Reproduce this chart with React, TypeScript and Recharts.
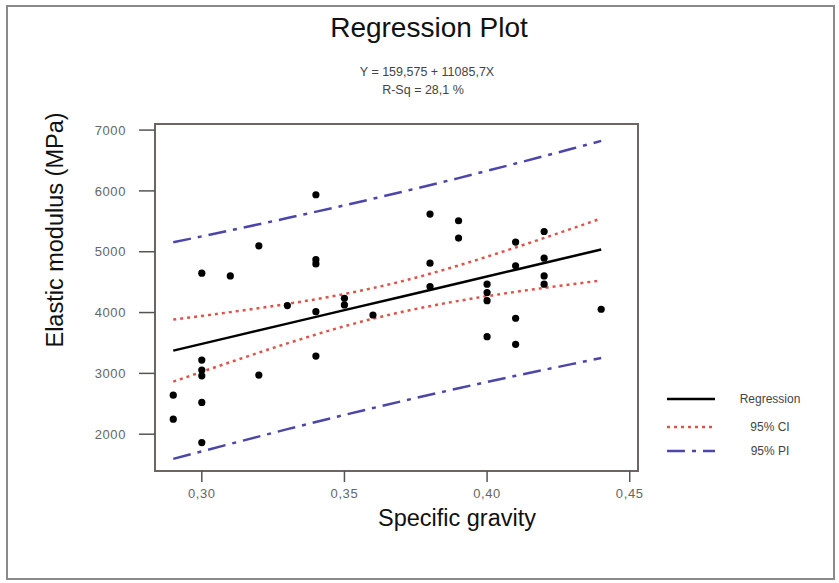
import React from 'react';
import { ComposedChart, Line, Scatter, XAxis, YAxis, ReferenceArea } from 'recharts';

// observed points (specific gravity vs elastic modulus)
const gravity = [
  0.29, 0.29,
  0.3, 0.3, 0.3, 0.3, 0.3, 0.3,
  0.31,
  0.32, 0.32,
  0.33,
  0.34, 0.34, 0.34, 0.34, 0.34,
  0.35, 0.35,
  0.36,
  0.38, 0.38, 0.38,
  0.39, 0.39,
  0.4, 0.4, 0.4, 0.4,
  0.41, 0.41, 0.41, 0.41,
  0.42, 0.42, 0.42, 0.42,
  0.44,
];
const modulus = [
  2642, 2247,
  4647, 3219, 3054, 2960, 2522, 1863,
  4603,
  5097, 2972,
  4114,
  5937, 4870, 4800, 4015, 3285,
  4235, 4125,
  3960,
  5619, 4812, 4427,
  5509, 5224,
  4466, 4328, 4196, 3603,
  5158, 4768, 3906, 3478,
  5333, 4894, 4603, 4466,
  4054,
];

// fitted line and bands
const bandX = [0.29, 0.31, 0.33, 0.35, 0.37, 0.39, 0.41, 0.43, 0.44];
const regression = [3374, 3596, 3818, 4040, 4261, 4483, 4705, 4926, 5037];
const ciUpper = [3884, 4007, 4143, 4305, 4513, 4774, 5070, 5385, 5547];
const ciLower = [2864, 3185, 3493, 3775, 4009, 4192, 4340, 4467, 4527];
const piUpper = [5155, 5351, 5553, 5762, 5981, 6210, 6450, 6696, 6822];
const piLower = [1595, 1841, 2083, 2318, 2541, 2756, 2960, 3156, 3252];

const xTicks = [0.3, 0.35, 0.4, 0.45];
const yTicks = [2000, 3000, 4000, 5000, 6000, 7000];

const X_DOMAIN: [number, number] = [0.2836, 0.4529];
const Y_DOMAIN: [number, number] = [1395, 7100];

const FONT = '"Liberation Sans", Arial, sans-serif';
const CI_COLOR = '#d9564a';
const PI_COLOR = '#4b46a8';

const points = gravity.map((x, i) => ({ x, y: modulus[i] }));
const bands = bandX.map((x, i) => ({
  x,
  reg: regression[i],
  ciU: ciUpper[i],
  ciL: ciLower[i],
  piU: piUpper[i],
  piL: piLower[i],
}));

const Dot = (props: any) => <circle cx={props.cx} cy={props.cy} r={3.6} fill="#000" />;

const legendRows = [
  { label: 'Regression', top: 399, color: '#000', dash: undefined },
  { label: '95% CI', top: 427, color: CI_COLOR, dash: '3 4' },
  { label: '95% PI', top: 451, color: PI_COLOR, dash: '18 7 4 7' },
];

const centered = (left: number, top: number, size: number, color: string, extra: React.CSSProperties = {}) => ({
  position: 'absolute' as const,
  left,
  top,
  transform: 'translate(-50%, -50%)',
  fontFamily: FONT,
  fontSize: size,
  color,
  whiteSpace: 'nowrap' as const,
  lineHeight: 1,
  ...extra,
});

export default function App() {
  const fmt = (v: number) => v.toFixed(2).replace('.', ',');
  return (
    <div style={{ position: 'absolute', left: 0, top: 0, width: 839, height: 583, background: '#fff' }}>
      <div
        style={{
          position: 'absolute',
          left: 6,
          top: 5,
          width: 825,
          height: 571,
          border: '2px solid #8a8a8a',
        }}
      />
      <div style={{ position: 'absolute', left: 0, top: 0 }}>
        <ComposedChart
          width={839}
          height={583}
          data={bands}
          margin={{ top: 124, right: 201, left: 95, bottom: 72 }}
        >
          <XAxis
            dataKey="x"
            type="number"
            domain={X_DOMAIN}
            ticks={xTicks}
            tickFormatter={fmt}
            allowDataOverflow
            height={40}
            axisLine={false}
            tickLine={{ stroke: '#555', strokeWidth: 1.5 }}
            tickSize={11}
            tickMargin={7}
            tick={{ fill: '#666', fontSize: 13, fontFamily: FONT, letterSpacing: 0.6 }}
          />
          <YAxis
            type="number"
            domain={Y_DOMAIN}
            ticks={yTicks}
            allowDataOverflow
            width={60}
            axisLine={false}
            tickLine={{ stroke: '#555', strokeWidth: 1.5 }}
            tickSize={16}
            tickMargin={13}
            tick={{ fill: '#666', fontSize: 13, fontFamily: FONT, letterSpacing: 0.6 }}
          />
          <ReferenceArea
            x1={X_DOMAIN[0]}
            x2={X_DOMAIN[1]}
            y1={Y_DOMAIN[0]}
            y2={Y_DOMAIN[1]}
            fill="none"
            stroke="#6e6461"
            strokeWidth={2}
            ifOverflow="visible"
          />
          <Line dataKey="piU" type="linear" stroke={PI_COLOR} strokeWidth={2.5} strokeDasharray="18 7 4 7" dot={false} isAnimationActive={false} />
          <Line dataKey="piL" type="linear" stroke={PI_COLOR} strokeWidth={2.5} strokeDasharray="18 7 4 7" dot={false} isAnimationActive={false} />
          <Line dataKey="ciU" type="monotone" stroke={CI_COLOR} strokeWidth={2.5} strokeDasharray="3 4" dot={false} isAnimationActive={false} />
          <Line dataKey="ciL" type="monotone" stroke={CI_COLOR} strokeWidth={2.5} strokeDasharray="3 4" dot={false} isAnimationActive={false} />
          <Line dataKey="reg" type="linear" stroke="#000" strokeWidth={2.5} dot={false} isAnimationActive={false} />
          <Scatter data={points} dataKey="y" shape={Dot} isAnimationActive={false} />
        </ComposedChart>
      </div>
      {legendRows.map((r) => (
        <React.Fragment key={r.label}>
          <svg style={{ position: 'absolute', left: 666, top: r.top - 5 }} width={50} height={10}>
            <line x1={1} y1={5} x2={49} y2={5} stroke={r.color} strokeWidth={2.5} strokeDasharray={r.dash} />
          </svg>
          <div style={centered(770, r.top, 12, '#444')}>{r.label}</div>
        </React.Fragment>
      ))}
      <div style={centered(429, 28, 28, '#111')}>Regression Plot</div>
      <div style={centered(427, 72, 12.5, '#444')}>Y = 159,575 + 11085,7X</div>
      <div style={centered(423, 90, 12.5, '#444')}>R-Sq = 28,1 %</div>
      <div style={centered(457, 519, 23.5, '#111')}>Specific gravity</div>
      <div style={centered(56, 230, 23.5, '#111', { transform: 'translate(-50%, -50%) rotate(-90deg)' })}>
        Elastic modulus (MPa)
      </div>
    </div>
  );
}
